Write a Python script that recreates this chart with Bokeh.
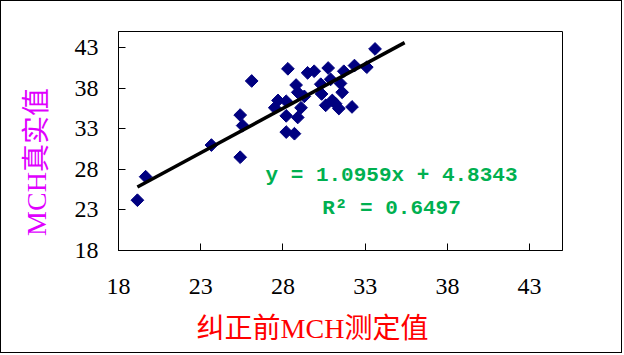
import numpy as np
from bokeh.plotting import figure
from bokeh.models import FixedTicker, Label, ColumnDataSource
from bokeh.embed import file_html
from bokeh.resources import INLINE

# ---- data ----
x_vals = [19.15, 19.65, 23.65, 25.4, 25.55, 25.4, 26.1, 28.3, 27.5, 27.7,
          28.2, 28.2, 28.9, 28.2, 28.7, 28.8, 28.9, 29.3, 29.1, 29.5,
          29.9, 30.75, 30.3, 30.35, 30.9, 31.5, 31.6, 31.0, 31.2, 30.6,
          31.4, 32.2, 31.7, 32.35, 33.1, 33.6]
y_vals = [24.2, 27.1, 31.0, 34.7, 33.4, 29.5, 38.9, 40.4, 35.6, 36.5,
          36.4, 34.6, 34.4, 32.6, 32.4, 38.4, 37.5, 37.0, 35.6, 39.9,
          40.1, 40.5, 38.5, 37.3, 39.1, 38.6, 37.5, 36.5, 36.1, 35.9,
          35.5, 35.7, 40.1, 40.8, 40.6, 42.85]
slope = 1.0959
intercept = 4.8343
r_squared = 0.6497
trend_x = [19.15, 35.4]
ticks = [18, 23, 28, 33, 38, 43]
x_title = "纠正前MCH测定值"
y_title = "MCH真实值"

trend_y = [slope * v + intercept for v in trend_x]

p = figure(width=622, height=353, x_range=(18, 45), y_range=(18, 45),
           output_backend="svg", toolbar_location=None,
           min_border_left=117, min_border_right=61,
           min_border_top=30, min_border_bottom=104)
p.styles = {"border": "1px solid black"}
p.grid.visible = False
p.outline_line_color = "black"
p.outline_line_width = 1
p.background_fill_color = "white"
p.border_fill_color = "white"

cjk = "Liberation Serif, Noto Sans CJK SC"
for ax in (p.xaxis[0], p.yaxis[0]):
    ax.ticker = FixedTicker(ticks=ticks)
    ax.minor_tick_line_color = None
    ax.major_tick_in = 7
    ax.major_tick_out = 0
    ax.axis_line_color = "black"
    ax.major_tick_line_color = "black"
    ax.major_label_text_font = "Liberation Serif"
    ax.major_label_text_font_size = "24px"
    ax.major_label_text_color = "black"
    ax.axis_label_text_font = cjk
    ax.axis_label_text_font_size = "28px"
    ax.axis_label_text_font_style = "normal"
p.xaxis.major_label_standoff = 28
p.yaxis.major_label_standoff = 20

p.xaxis.axis_label = x_title + "\u00a0" * 8
p.xaxis.axis_label_text_color = "#FF0000"
p.xaxis.axis_label_standoff = 16
p.yaxis.axis_label = y_title + "\u00a0" * 6
p.yaxis.axis_label_text_color = "#E000FF"
p.yaxis.axis_label_standoff = 20

src = ColumnDataSource(dict(x=x_vals, y=y_vals))
p.scatter("x", "y", source=src, marker="square", size=9, angle=np.pi / 4,
          fill_color="#000080", line_color="#000080")
p.line(trend_x, trend_y, line_color="black", line_width=3.5)

eq1 = f"y = {slope}x + {intercept}"
eq2 = f"R\u00b2 = {r_squared}"
p.add_layout(Label(x=273, y=75, x_units="screen", y_units="screen",
                   text=eq1, text_align="center", text_baseline="middle",
                   text_font="Liberation Mono", text_font_size="21px",
                   text_font_style="bold", text_color="#00B050"))
p.add_layout(Label(x=273, y=42, x_units="screen", y_units="screen",
                   text=eq2, text_align="center", text_baseline="middle",
                   text_font="Liberation Mono", text_font_size="21px",
                   text_font_style="bold", text_color="#00B050"))

open("out.html", "w").write(file_html(p, INLINE))
